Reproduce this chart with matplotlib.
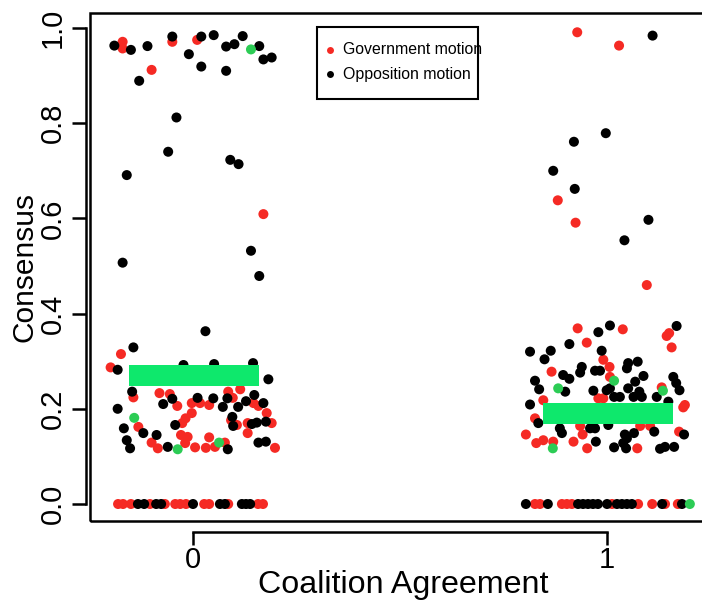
import matplotlib
matplotlib.use("Agg")
import matplotlib.pyplot as plt
from matplotlib.patches import Rectangle
from matplotlib.lines import Line2D

plt.rcParams['font.family'] = ['Liberation Sans', 'DejaVu Sans']

# Date: consens (y) si deplasarea jitter (x) pentru fiecare punct
# Grupul 0 (fara acord de coalitie)
gov0_y = [0.971, 0.957, 0.912, 0.971, 0.975, 0.609,
          0.315, 0.287, 0.224, 0.233, 0.231, 0.206, 0.212, 0.212, 0.208, 0.236, 0.241, 0.223,
          0.212, 0.206, 0.191, 0.191, 0.180, 0.170, 0.176, 0.166, 0.170, 0.170, 0.162, 0.149,
          0.145, 0.141, 0.140, 0.129, 0.117, 0.128, 0.119, 0.118, 0.120, 0.129, 0.118,
          0, 0, 0, 0, 0, 0, 0, 0, 0, 0, 0, 0, 0]
gov0_jit = [-0.17, -0.17, -0.10, -0.05, 0.01, 0.17,
            -0.174, -0.199, -0.144, -0.081, -0.056, -0.038, -0.003, 0.017, 0.039, 0.085, 0.114, 0.096,
            0.146, 0.158, 0.178, -0.003, -0.018, -0.026, 0.092, 0.106, 0.132, 0.190, -0.132, 0.132,
            -0.029, -0.013, 0.039, -0.100, -0.085, -0.019, 0.005, 0.031, 0.053, 0.077, 0.198,
            -0.181, -0.169, -0.150, -0.104, -0.068, -0.043, -0.031, -0.017, 0.027, 0.039, 0.085, 0.157, 0.169]

opp0_y = [0.963, 0.954, 0.962, 0.889, 0.982, 0.945, 0.982, 0.985, 0.919, 0.961, 0.966, 0.983, 0.910,
          0.962, 0.934, 0.938, 0.812, 0.740, 0.723, 0.714, 0.691, 0.532, 0.479, 0.507, 0.363,
          0.329, 0.282, 0.292, 0.294, 0.296, 0.262, 0.236, 0.221, 0.210, 0.223, 0.222, 0.222, 0.204,
          0.204, 0.216, 0.229, 0.212, 0.200, 0.166, 0.183, 0.164, 0.168, 0.171, 0.173, 0.159, 0.149,
          0.145, 0.134, 0.120, 0.115, 0.117, 0.129, 0.131,
          0, 0, 0, 0, 0, 0, 0, 0, 0, 0]
opp0_jit = [-0.19, -0.15, -0.11, -0.13, -0.05, -0.01, 0.02, 0.05, 0.02, 0.08, 0.10, 0.12, 0.08,
            0.16, 0.17, 0.19, -0.04, -0.06, 0.09, 0.11, -0.16, 0.14, 0.16, -0.17, 0.03,
            -0.144, -0.182, -0.023, 0.051, 0.145, 0.182, -0.147, -0.050, -0.072, 0.011, 0.049, 0.083, 0.072,
            0.109, 0.128, 0.148, 0.170, -0.182, -0.043, 0.095, 0.097, 0.142, 0.154, 0.176, -0.167, -0.120,
            -0.088, -0.160, -0.061, 0.084, -0.152, 0.158, 0.176,
            -0.133, -0.118, -0.089, -0.077, 0.0, 0.065, 0.077, 0.118, 0.128, 0.138]

oth0_y = [0.955, 0.181, 0.115, 0.129]
oth0_jit = [0.14, -0.142, -0.037, 0.063]

# Grupul 1 (cu acord de coalitie)
gov1_y = [0.991, 0.963, 0.638, 0.591, 0.460,
          0.369, 0.367, 0.353, 0.359, 0.329, 0.339, 0.303, 0.288, 0.278, 0.267, 0.245, 0.222, 0.222,
          0.218, 0.208, 0.203, 0.180, 0.164, 0.164, 0.164, 0.152, 0.146, 0.146, 0.128, 0.134, 0.131,
          0.131, 0.117, 0.117,
          0, 0, 0, 0, 0, 0, 0, 0, 0, 0]
gov1_jit = [-0.072, 0.029, -0.119, -0.076, 0.096,
            -0.071, 0.038, 0.144, 0.150, 0.156, -0.049, -0.009, 0.006, -0.134, 0.007, 0.132, -0.021, -0.009,
            -0.154, 0.188, 0.184, -0.174, -0.065, 0.080, 0.104, 0.174, -0.196, -0.059, -0.171, -0.154, -0.130,
            -0.081, -0.048, 0.073,
            -0.174, -0.162, -0.109, -0.097, -0.085, 0.012, 0.075, 0.109, 0.140, 0.171]

opp1_y = [0.984, 0.779, 0.761, 0.700, 0.662, 0.597, 0.554,
          0.375, 0.361, 0.374, 0.336, 0.320, 0.322, 0.322, 0.304, 0.296, 0.299, 0.285, 0.288, 0.271,
          0.263, 0.276, 0.280, 0.280, 0.269, 0.257, 0.259, 0.241, 0.236, 0.238, 0.239, 0.243, 0.243,
          0.236, 0.267, 0.254, 0.239, 0.225, 0.225, 0.225, 0.225, 0.225, 0.209, 0.215, 0.170, 0.159,
          0.149, 0.159, 0.159, 0.166, 0.152, 0.146, 0.146, 0.138, 0.149, 0.131, 0.119, 0.128, 0.117,
          0.116, 0.120, 0.120,
          0, 0, 0, 0, 0, 0, 0, 0, 0, 0, 0, 0, 0, 0]
opp1_jit = [0.110, -0.003, -0.080, -0.130, -0.078, 0.100, 0.042,
            0.007, -0.021, 0.168, -0.091, -0.186, -0.136, -0.013, -0.151, 0.051, 0.074, 0.048, -0.061, -0.106,
            -0.091, -0.065, -0.029, -0.017, 0.088, 0.068, -0.174, -0.164, -0.101, -0.033, -0.001, 0.007, 0.051,
            0.078, 0.160, 0.167, 0.175, 0.120, 0.031, 0.064, 0.084, 0.017, -0.186, 0.148, -0.166, -0.114,
            -0.109, -0.041, -0.029, 0.003, 0.114, 0.186, 0.043, 0.048, 0.065, -0.027, 0.017, 0.039, 0.046,
            0.128, 0.140, 0.162,
            -0.196, -0.143, -0.070, -0.058, -0.046, -0.034, -0.022, 0.0, 0.024, 0.036, 0.048, 0.060, 0.133, 0.181]

oth1_y = [0.259, 0.243, 0.238, 0.117, 0]
oth1_jit = [0.017, -0.118, 0.135, -0.131, 0.200]

# Media pe grup (bara verde)
groups = [0, 1]
group_means = [0.27, 0.19]
xtick_labels = ['0', '1']
y_ticks = [0.0, 0.2, 0.4, 0.6, 0.8, 1.0]

red = '#f52a24'
green_pt = '#2ccc55'
green_bar = '#0ee86c'

fig = plt.figure(figsize=(7.02, 6.02), dpi=100)
ax = fig.add_axes([90 / 702, 81 / 602, 616 / 702, 508 / 602])

data = [(0, gov0_y, gov0_jit, red), (0, opp0_y, opp0_jit, 'black'), (0, oth0_y, oth0_jit, green_pt),
        (1, gov1_y, gov1_jit, red), (1, opp1_y, opp1_jit, 'black'), (1, oth1_y, oth1_jit, green_pt)]
for g, ys, jit, col in data:
    xs = [g + j for j in jit]
    ax.scatter(xs, ys, s=52, color=col, edgecolors='none', zorder=3)

# Barele verzi cu media
ax.barh(group_means, 0.315, left=[g - 0.155 for g in groups], height=0.044,
        color=green_bar, zorder=4)

ax.set_xlim(-0.2488, 1.239)
ax.set_ylim(-0.0357, 1.0315)

# Cadru + axe in stil R
for s in ['top', 'right']:
    ax.spines[s].set_visible(False)
ax.add_patch(Rectangle((0, 0), 1, 1, transform=ax.transAxes, fill=False,
                       lw=1.8, edgecolor='black', clip_on=False, zorder=5))
ax.spines['left'].set_bounds(0, 1)
ax.spines['left'].set_position(('outward', 3))
ax.spines['bottom'].set_bounds(0, 1)
ax.spines['bottom'].set_position(('outward', 8))
ax.spines['left'].set_linewidth(1.8)
ax.spines['bottom'].set_linewidth(1.8)

ax.set_xticks(groups)
ax.set_xticklabels(xtick_labels)
ax.set_yticks(y_ticks)
ax.set_yticklabels([f'{t:.1f}' for t in y_ticks])
ax.tick_params(axis='both', labelsize=21, width=1.8, color='black')
ax.tick_params(axis='x', length=9, pad=1)
ax.tick_params(axis='y', length=10, pad=4)
for lab in ax.get_yticklabels():
    lab.set_rotation(90)
    lab.set_va('center')

ax.set_xlabel('Coalition Agreement', fontsize=23.2, va='center')
ax.xaxis.set_label_coords(0.508, -0.126)
ax.set_ylabel('Consensus', fontsize=21.5, labelpad=0)

# Legenda
fig.add_artist(Rectangle((317 / 702, 1 - 99 / 602), 161 / 702, 72 / 602,
                         transform=fig.transFigure, fill=False, lw=1.5, edgecolor='black'))
leg_labels = ['Government motion', 'Opposition motion']
leg_colors = [red, 'black']
for i, (lab, col) in enumerate(zip(leg_labels, leg_colors)):
    yy = 1 - (50 + 24 * i) / 602
    fig.add_artist(Line2D([330 / 702], [yy], marker='o', color=col, markersize=5,
                          markeredgewidth=0, transform=fig.transFigure))
    fig.text(343 / 702, yy, lab, fontsize=11.4, va='center', ha='left')

fig.savefig('out.png', dpi=100)
